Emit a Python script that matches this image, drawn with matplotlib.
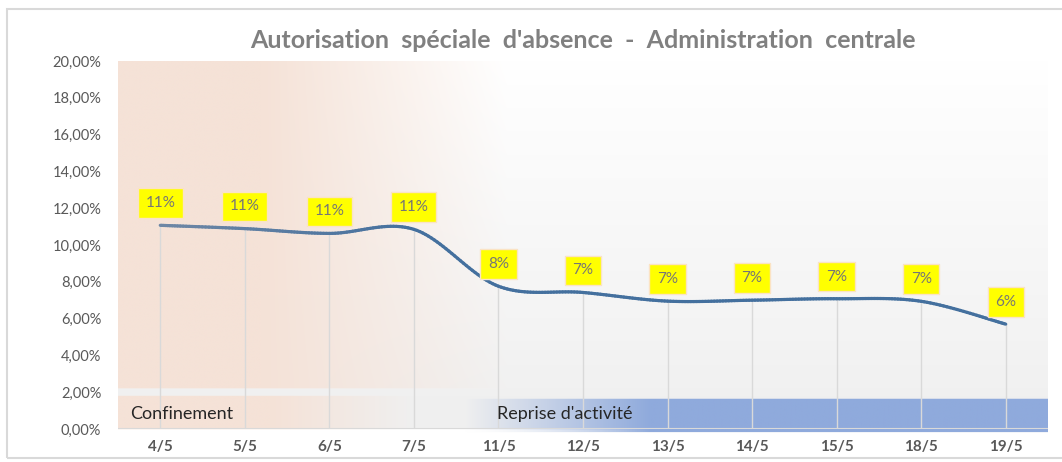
import numpy as np
import matplotlib.pyplot as plt
from matplotlib.collections import LineCollection
from matplotlib.patches import Rectangle

plt.rcParams['font.family'] = ['Lato', 'DejaVu Sans']

# donnees
dates = ['4/5', '5/5', '6/5', '7/5', '11/5', '12/5', '13/5', '14/5', '15/5', '18/5', '19/5']
taux = [11.07, 10.89, 10.63, 10.85, 7.76, 7.42, 6.95, 7.00, 7.08, 6.94, 5.70]
yticks = np.arange(0, 21, 2)
titre = "Autorisation  spéciale  d'absence  -  Administration  centrale"

fig = plt.figure(figsize=(10.62, 4.62), dpi=100)
ax = fig.add_axes([118/1062, 33/462, 930/1062, 368/462])
ax.set_xlim(-0.5, 10.5)
ax.set_ylim(0, 20)

# fond en degrade (confinement / reprise)
nx, ny = 1100, 500
X, Y = np.meshgrid(np.linspace(-0.5, 10.5, nx), np.linspace(20, -0.2, ny))
peach = np.array([245, 226, 215]) / 255
blue = np.array([143, 170, 220]) / 255
img = np.ones((ny, nx, 4))

t = np.clip((20 - Y) / 17.8, 0, 1)[..., None]
base = (1 - t) * 1.0 + t * 0.945
a = np.clip((4.1 - X) / (4.1 - 1.2), 0, 1)[..., None]
upper = a * peach + (1 - a) * base
a2 = np.clip((3.0 - X) / (3.0 - 1.3), 0, 1)[..., None]
band = a2 * peach + (1 - a2) * 0.94
col = np.where((Y >= 2.2)[..., None], upper, np.where((Y >= 1.8)[..., None], 0.945, band))
b = np.clip((X - 3.6) / (5.8 - 3.6), 0, 1)[..., None]
inblue = ((Y < 1.64) & (Y >= -0.16))[..., None]
col = np.where(inblue, b * blue + (1 - b) * col, col)
img[..., :3] = col
img[..., 3] = np.where(Y < 0, np.where(Y >= -0.16, b[..., 0], 0), 1)
im = ax.imshow(img, extent=(-0.5, 10.5, -0.2, 20), aspect='auto', zorder=0, interpolation='bilinear')
im.set_clip_on(False)

x = np.arange(len(taux))
y = np.array(taux)
ax.vlines(x, 0, y, color='#D9D9D9', lw=1, zorder=1)
ax.axhline(0, color='#D9D9D9', lw=1.5, zorder=2)

# courbe lissee (bezier facon Excel)
P = np.column_stack([x, y]).astype(float)
pts = []
s = np.linspace(0, 1, 30)
for i in range(len(P) - 1):
    p0 = P[max(i - 1, 0)]
    p1, p2 = P[i], P[i + 1]
    p3 = P[min(i + 2, len(P) - 1)]
    c1 = p1 + (p2 - p0) / 6
    c2 = p2 - (p3 - p1) / 6
    seg = ((1 - s)**3)[:, None] * p1 + (3 * (1 - s)**2 * s)[:, None] * c1 \
        + (3 * (1 - s) * s**2)[:, None] * c2 + (s**3)[:, None] * p2
    pts.append(seg if i == 0 else seg[1:])
pts = np.vstack(pts)
segs = np.stack([pts[:-1], pts[1:]], axis=1)
f = np.clip(pts[:-1, 0] / 3.0, 0, 1)[:, None]
c_start = np.array([110, 135, 165]) / 255
c_end = np.array([68, 112, 158]) / 255
lc = LineCollection(segs, colors=(1 - f) * c_start + f * c_end, linewidths=2.3,
                    capstyle='round', zorder=3)
ax.add_collection(lc)

for i, v in enumerate(taux):
    ax.annotate(f"{v:.0f}%", (i, v), xytext=(0, 16), textcoords='offset points',
                ha='center', va='center', fontsize=11, color='#767676', zorder=4,
                bbox=dict(boxstyle='square,pad=0.5', fc='#FFFF00', ec='#FBE3C4', lw=1))

ax.text(-0.36, 0.82, 'Confinement', fontsize=13, color='#262626', va='center', ha='left', zorder=4)
ax.text(4.78, 0.82, "Reprise d'activité", fontsize=13, color='#262626', va='center', ha='center', zorder=4)

ax.set_xticks(x, dates)
ax.set_yticks(yticks, [f"{v:.2f}".replace('.', ',') + '%' for v in yticks])
ax.tick_params(axis='x', length=0, pad=8, labelsize=11, labelcolor='#595959')
ax.tick_params(axis='y', length=0, pad=12, labelsize=10.5, labelcolor='#595959')
for lab in ax.get_xticklabels():
    lab.set_fontweight('bold')
for sp in ax.spines.values():
    sp.set_visible(False)

fig.text(583/1062, 1 - 40/462, titre, ha='center', va='center', fontsize=18,
         fontweight='bold', color='#808080')
fig.add_artist(Rectangle((7/1062, 4/462), 1.2, 449/462, transform=fig.transFigure,
                         fill=False, ec='#D9D9D9', lw=1.5))

fig.savefig('out.png', dpi=100)
